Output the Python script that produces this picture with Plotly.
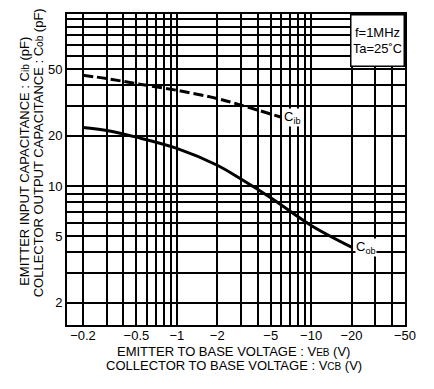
import math
import plotly.graph_objects as go

# ---- data (magnitudes of reverse voltage, V) ----
cib_v = [0.2, 0.3, 0.5, 1.0, 2.0, 3.0, 6.0]
cib_c = [46.0, 44.0, 41.0, 37.4, 33.4, 30.5, 25.8]

cob_v = [0.2, 0.3, 0.5, 1.0, 2.0, 3.0, 5.0, 10.0, 20.0]
cob_c = [22.4, 21.5, 19.6, 16.8, 13.3, 11.0, 8.5, 5.8, 4.3]

x_grid = [0.2, 0.3, 0.4, 0.5, 0.6, 0.7, 0.8, 0.9, 1, 2, 3, 4, 5, 6, 7, 8, 9, 10, 20, 30, 40, 50]
x_labels = {0.2: "\u22120.2", 0.5: "\u22120.5", 1: "\u22121", 2: "\u22122", 5: "\u22125",
            10: "\u221210", 20: "\u221220", 50: "\u221250"}
y_grid = [2, 3, 4, 5, 6, 7, 8, 9, 10, 20, 30, 40, 50, 60, 70, 80, 90, 100]
y_labels = {2: "2", 5: "5", 10: "10", 20: "20", 50: "50"}

FONT = "Arial"
BLACK = "black"


def small(s, size=10):
    return "<span style='font-size:%dpx'>%s</span>" % (size, s)


fig = go.Figure()
fig.add_trace(go.Scatter(x=cib_v, y=cib_c, mode="lines", line_shape="spline",
                         line=dict(color=BLACK, width=3, dash="10px,4px"), showlegend=False))
fig.add_trace(go.Scatter(x=cob_v, y=cob_c, mode="lines", line_shape="spline",
                         line=dict(color=BLACK, width=3), showlegend=False))

axis_common = dict(type="log", showgrid=True, gridcolor=BLACK, gridwidth=1.5,
                   showline=True, linecolor=BLACK, linewidth=2, mirror=True,
                   ticks="", tickfont=dict(size=13, family=FONT, color=BLACK),
                   zeroline=False)

fig.update_layout(
    width=434, height=389,
    margin=dict(l=67, r=29, t=12, b=64),
    paper_bgcolor="white", plot_bgcolor="white",
    font=dict(family=FONT, color=BLACK),
    xaxis=dict(range=[-0.818, math.log10(50)],
               tickvals=x_grid, ticktext=[x_labels.get(v, "") for v in x_grid],
               ticklabelstandoff=-3, **axis_common),
    yaxis=dict(range=[0.167, 2.03],
               tickvals=y_grid, ticktext=[y_labels.get(v, "") for v in y_grid],
               **axis_common),
)

# curve labels
fig.add_annotation(x=math.log10(cib_v[-1]), y=math.log10(cib_c[-1]), xref="x", yref="y",
                   text="C<sub>ib</sub>", showarrow=False, xanchor="left", yanchor="middle",
                   xshift=2, bgcolor="white", borderpad=0,
                   font=dict(size=13, family=FONT, color=BLACK))
fig.add_annotation(x=math.log10(cob_v[-1]), y=math.log10(cob_c[-1]), xref="x", yref="y",
                   text="C<sub>ob</sub>", showarrow=False, xanchor="left", yanchor="middle",
                   xshift=3, bgcolor="white", borderpad=0,
                   font=dict(size=13, family=FONT, color=BLACK))
fig.add_shape(type="line", xref="paper", yref="y", x0=0.93, x1=1.0,
              y0=math.log10(cob_c[-1]), y1=math.log10(cob_c[-1]),
              line=dict(color=BLACK, width=1.5))

# condition box
fig.add_annotation(x=1, y=1, xref="paper", yref="paper", xanchor="right", yanchor="top",
                   text="f=1MHz<br>Ta=25\u02daC", showarrow=False, align="center",
                   width=48, height=46, valign="middle",
                   bgcolor="white", bordercolor=BLACK, borderwidth=1.5, borderpad=2,
                   font=dict(size=13, family=FONT, color=BLACK))

# axis titles (two lines each)
fig.add_annotation(x=-0.124, y=0.525, xref="paper", yref="paper", textangle=-90,
                   text="EMITTER INPUT CAPACITANCE : C" + small("ib") + " (pF)", showarrow=False,
                   xanchor="center", yanchor="middle", font=dict(size=13, family=FONT, color=BLACK))
fig.add_annotation(x=-0.086, y=0.555, xref="paper", yref="paper", textangle=-90,
                   text="COLLECTOR OUTPUT CAPACITANCE : C" + small("ob") + " (pF)", showarrow=False,
                   xanchor="center", yanchor="middle", font=dict(size=13, family=FONT, color=BLACK))
fig.add_annotation(x=0.494, y=-0.0845, xref="paper", yref="paper",
                   text="EMITTER TO BASE VOLTAGE : V" + small("EB") + " (V)", showarrow=False,
                   xanchor="center", yanchor="middle", font=dict(size=13, family=FONT, color=BLACK))
fig.add_annotation(x=0.494, y=-0.130, xref="paper", yref="paper",
                   text="COLLECTOR TO BASE VOLTAGE : V" + small("CB") + " (V)", showarrow=False,
                   xanchor="center", yanchor="middle", font=dict(size=13, family=FONT, color=BLACK))

fig.write_html("out.html")
